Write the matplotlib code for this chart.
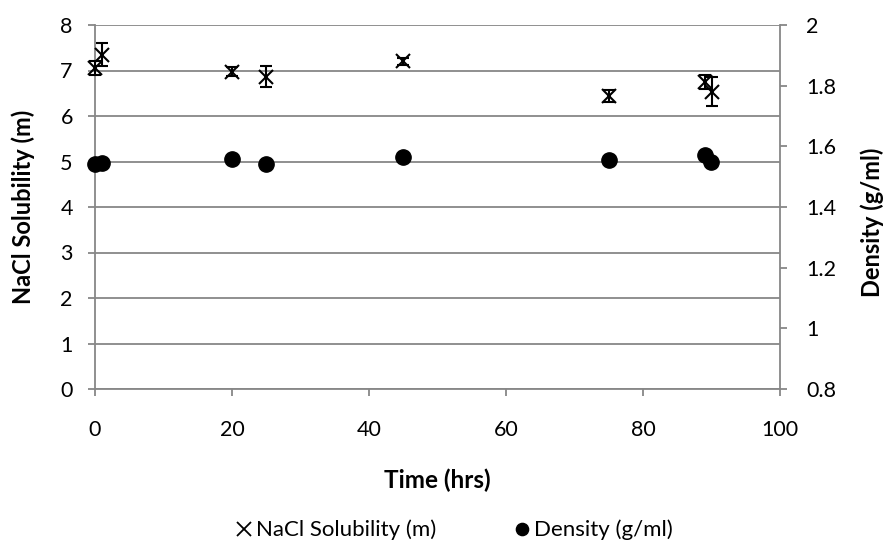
import matplotlib
matplotlib.use("Agg")
import matplotlib.pyplot as plt
from matplotlib.lines import Line2D

plt.rcParams['font.family'] = ['Lato', 'DejaVu Sans']

# Sampling times (hrs)
time_hrs = [0, 1, 20, 25, 45, 75, 89, 90]
# NaCl solubility (molal) with standard deviation
solubility = [7.05, 7.35, 6.97, 6.86, 7.20, 6.44, 6.75, 6.53]
solubility_err = [0.15, 0.25, 0.10, 0.23, 0.07, 0.14, 0.15, 0.32]
# Solution density (g/ml)
density = [1.542, 1.544, 1.557, 1.542, 1.565, 1.555, 1.571, 1.549]

left_ticks = [0, 1, 2, 3, 4, 5, 6, 7, 8]
right_ticks = [0.8, 1.0, 1.2, 1.4, 1.6, 1.8, 2.0]
right_labels = ["0.8", "1", "1.2", "1.4", "1.6", "1.8", "2"]
x_ticks = [0, 20, 40, 60, 80, 100]

grid_col = "#878787"
W, H = 886, 544
AX_L, AX_R, AX_T, AX_B = 95, 780, 25, 389
fig = plt.figure(figsize=(W / 100, H / 100), dpi=100)
ax = fig.add_axes([AX_L / W, 1 - AX_B / H, (AX_R - AX_L) / W, (AX_B - AX_T) / H])
ax2 = ax.twinx()

ax.set_xlim(0, 100)
ax.set_ylim(0, 8)
ax2.set_ylim(0.8, 2.0)

ax.set_yticks(left_ticks)
ax.set_xticks(x_ticks)
ax2.set_yticks(right_ticks)
ax2.set_yticklabels(right_labels)

for a in (ax, ax2):
    for s in a.spines.values():
        s.set_visible(False)
ax.spines['left'].set_visible(True)
ax.spines['bottom'].set_visible(True)
ax2.spines['right'].set_visible(True)
for s in (ax.spines['left'], ax.spines['bottom'], ax2.spines['right']):
    s.set_color(grid_col)
    s.set_linewidth(1.3)

ax.yaxis.grid(True, color=grid_col, linewidth=1.3)
ax.set_axisbelow(True)

tick_kw = dict(direction='out', length=5, width=1.3, color=grid_col,
               labelcolor='black', labelsize=15.5)
ax.tick_params(axis='y', pad=11, **tick_kw)
ax.tick_params(axis='x', pad=17, **tick_kw)
ax2.tick_params(axis='y', pad=14, **tick_kw)

ax.errorbar(time_hrs, solubility, yerr=solubility_err, fmt='x', color='black',
            markersize=10, markeredgewidth=1.5, elinewidth=1.5,
            capsize=4.2, capthick=1.5, zorder=5, clip_on=False)
ax2.plot(time_hrs, density, 'o', color='black', markersize=11, zorder=5,
         clip_on=False)

ax.set_xlabel("Time (hrs)", fontsize=17.5, fontweight='bold')
ax.xaxis.set_label_coords(0.5, (AX_B - 480) / (AX_B - AX_T))
ax.xaxis.label.set_verticalalignment('center')

ax.set_ylabel("NaCl Solubility (m)", fontsize=17, fontweight='bold')
ax.yaxis.set_label_coords((23 - AX_L) / (AX_R - AX_L), 0.5)
ax.yaxis.label.set_verticalalignment('center')

ax2.set_ylabel("Density (g/ml)", fontsize=17, fontweight='bold')
ax2.yaxis.set_label_coords((872 - AX_L) / (AX_R - AX_L),
                           (AX_B - 222) / (AX_B - AX_T))
ax2.yaxis.label.set_verticalalignment('center')

handles = [
    Line2D([], [], marker='x', linestyle='none', color='black',
           markersize=10, markeredgewidth=1.3),
    Line2D([], [], marker='o', linestyle='none', color='black', markersize=8.8),
]
fig.legend(handles, ["NaCl Solubility (m)", "Density (g/ml)"],
           loc='center', bbox_to_anchor=(455 / W, 1 - 530 / H), ncol=2,
           frameon=False, fontsize=16, handlelength=0.6, handletextpad=0.2,
           columnspacing=3.6, borderpad=0, borderaxespad=0)

fig.savefig("out.png", dpi=100)
